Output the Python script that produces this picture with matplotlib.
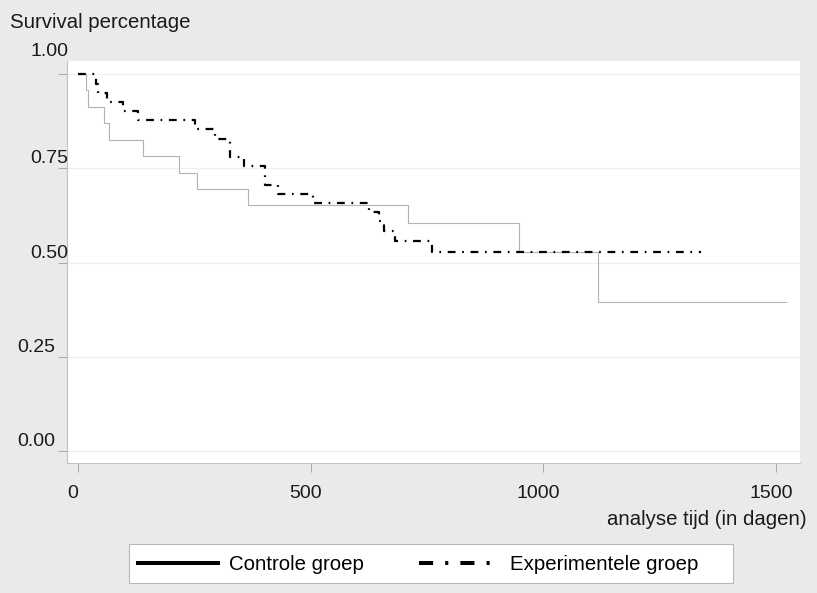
import numpy as np
import matplotlib.pyplot as plt
from matplotlib.lines import Line2D
from matplotlib.patches import Rectangle
from matplotlib.transforms import ScaledTranslation, blended_transform_factory

plt.rcParams['font.family'] = ['Liberation Sans', 'DejaVu Sans']

# Kaplan-Meier schattingen
tijd_controle = [0, 18, 22, 56, 67, 139, 218, 256, 366, 710, 948, 1118]
surv_controle = [1.0, 0.957, 0.913, 0.870, 0.826, 0.783, 0.739, 0.696, 0.652, 0.604, 0.528, 0.395]
eind_controle = 1521

tijd_exp = [0, 38, 44, 62, 97, 130, 251, 294, 327, 357, 402, 430, 505, 625, 647, 658, 681, 761]
surv_exp = [1.0, 0.974, 0.951, 0.927, 0.902, 0.878, 0.854, 0.829, 0.780, 0.756, 0.707, 0.683,
            0.658, 0.634, 0.610, 0.585, 0.557, 0.527]
eind_exp = 1338

x_ticks = [0, 500, 1000, 1500]
y_ticks = [0.00, 0.25, 0.50, 0.75, 1.00]
y_labels = ['0.00', '0.25', '0.50', '0.75', '1.00']
legend_labels = ['Controle groep', 'Experimentele groep']

W, H = 817, 593
fig = plt.figure(figsize=(W / 100, H / 100), dpi=100, facecolor='#e9eaec')
ax = fig.add_axes([66.7 / W, 1 - 463 / H, (800 - 66.7) / W, (463 - 61) / H])
ax.set_facecolor('white')

dashdot = (0, (3.5, 3.0, 0.77, 3.0))

ax.step(np.append(tijd_controle, eind_controle), np.append(surv_controle, surv_controle[-1]),
        where='post', color='#b3b3b3', lw=0.8, zorder=3)
ax.step(np.append(tijd_exp, eind_exp), np.append(surv_exp, surv_exp[-1]),
        where='post', color='black', lw=1.6, linestyle=dashdot, zorder=4)

ax.set_xlim(-24.3, 1551.7)
ax.set_ylim(-0.032, 1.035)

ax.set_xticks(x_ticks)
ax.set_xticklabels([str(v) for v in x_ticks])
ax.set_yticks(y_ticks)
ax.set_yticklabels([])
ax.grid(axis='y', color='#efefef', lw=0.8, zorder=0)
ax.tick_params(axis='x', length=6.5, width=0.7, color='#a8a8a8', pad=9,
               labelsize=14, labelcolor='#1a1a1a')
ax.tick_params(axis='y', length=6.3, width=0.7, color='#a8a8a8')
for lab in ax.get_xticklabels():
    lab.set_transform(lab.get_transform() + ScaledTranslation(-5 / 100, 0, fig.dpi_scale_trans))

for s in ['top', 'right']:
    ax.spines[s].set_visible(False)
for s in ['left', 'bottom']:
    ax.spines[s].set_color('#c4c4c4')
    ax.spines[s].set_linewidth(0.8)

# y-labels staan boven de tick, zoals in de originele figuur
label_pos = {'0.00': (55, 5), '0.25': (55, 5), '0.50': (68, 4.6), '0.75': (68, 5.3), '1.00': (68, 18.5)}
trans = blended_transform_factory(fig.transFigure, ax.transData)
for v, lab in zip(y_ticks, y_labels):
    xr, dy = label_pos[lab]
    ax.text(xr / W, v, lab, ha='right', va='baseline', fontsize=14, color='#1a1a1a',
            transform=trans + ScaledTranslation(0, dy / 100, fig.dpi_scale_trans), clip_on=False)

fig.text(10 / W, 1 - 28.3 / H, 'Survival percentage', va='baseline', fontsize=14.7, color='#1a1a1a')
fig.text(806.7 / W, 1 - 525 / H, 'analyse tijd (in dagen)', ha='right', va='baseline',
         fontsize=14.7, color='#1a1a1a')

fig.add_artist(Rectangle((129 / W, 1 - 583 / H), (733 - 129) / W, (583 - 544) / H,
                         transform=fig.transFigure, facecolor='white', edgecolor='#b8b8b8', lw=0.8))
handles = [Line2D([], [], color='black', lw=2.9),
           Line2D([], [], color='black', lw=2.9, linestyle=dashdot)]
fig.legend(handles, legend_labels, loc='center left', bbox_to_anchor=(138 / W, 1 - 565 / H),
           bbox_transform=fig.transFigure, ncol=2, frameon=False, fontsize=14.7,
           borderpad=0, borderaxespad=0, handlelength=3.9, handletextpad=0.55, columnspacing=2.7)

fig.savefig('out.png', dpi=100, facecolor=fig.get_facecolor())
